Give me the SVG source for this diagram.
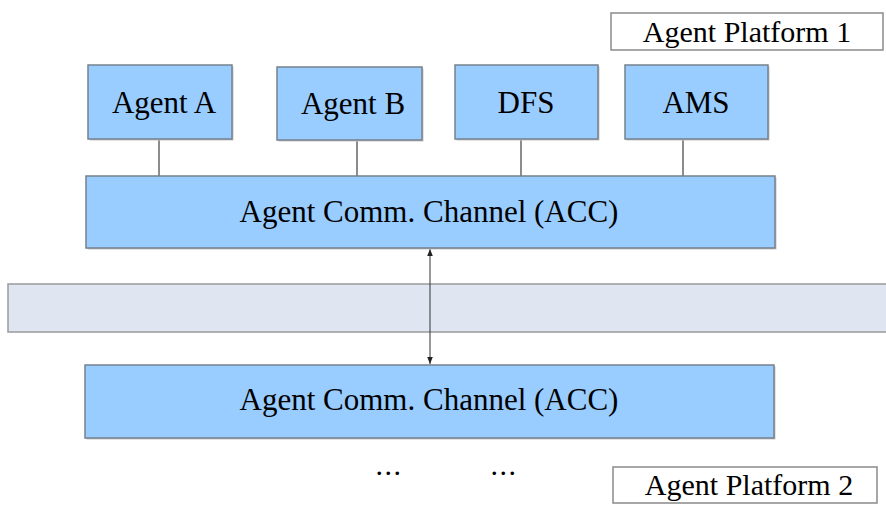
<svg xmlns="http://www.w3.org/2000/svg" width="886" height="511" viewBox="0 0 886 511">
  <defs>
    <style>
      .box { fill: #99ccff; stroke: #76818c; stroke-width: 1.5; }
      .shadow { fill: #c8c8c8; }
      .label { fill: #000; font-family: "Liberation Serif", "Times New Roman", serif; font-size: 31px; text-anchor: middle; }
      .plabel { fill: #000; font-family: "Liberation Serif", "Times New Roman", serif; font-size: 30px; text-anchor: middle; }
      .plat { fill: #ffffff; stroke: #8a8a8a; stroke-width: 1.5; }
      .link { stroke: #8c8c8c; stroke-width: 2; fill: none; }
      .arrow { stroke: #333; stroke-width: 1; fill: none; }
    </style>
    <marker id="ah" viewBox="0 0 10 10" refX="10" refY="5" markerWidth="7" markerHeight="7" orient="auto-start-reverse" markerUnits="userSpaceOnUse">
      <path d="M0,1 L10,5 L0,9 z" fill="#222"/>
    </marker>
  </defs>
  <rect width="886" height="511" fill="#ffffff"/>

  <g id="network-band">
    <rect x="8" y="284" width="880" height="48" fill="#dfe6f2" stroke="#9a9a9a" stroke-width="1.5"/>
  </g>

  <g id="connectors">
    <line class="link" x1="159" y1="139" x2="159" y2="176"/>
    <line class="link" x1="357" y1="140" x2="357" y2="176"/>
    <line class="link" x1="521" y1="139" x2="521" y2="176"/>
    <line class="link" x1="683" y1="139" x2="683" y2="176"/>
    <line class="arrow" x1="430" y1="249" x2="430" y2="364" marker-start="url(#ah)" marker-end="url(#ah)"/>
  </g>

  <g id="platform1-label">
    <rect class="plat" x="611" y="13" width="272" height="37"/>
    <text class="plabel" x="747" y="42">Agent Platform 1</text>
  </g>

  <g id="agent-a">
    <rect class="shadow" x="89.5" y="66.5" width="144" height="74"/>
    <rect class="box" x="88" y="65" width="144" height="74"/>
    <text class="label" x="164" y="113">Agent A</text>
  </g>
  <g id="agent-b">
    <rect class="shadow" x="278.5" y="68.5" width="145" height="73"/>
    <rect class="box" x="277" y="67" width="145" height="73"/>
    <text class="label" x="353" y="114">Agent B</text>
  </g>
  <g id="dfs">
    <rect class="shadow" x="456.5" y="66.5" width="143" height="74"/>
    <rect class="box" x="455" y="65" width="143" height="74"/>
    <text class="label" x="526" y="113">DFS</text>
  </g>
  <g id="ams">
    <rect class="shadow" x="626.5" y="66.5" width="143" height="74"/>
    <rect class="box" x="625" y="65" width="143" height="74"/>
    <text class="label" x="696" y="113">AMS</text>
  </g>

  <g id="acc1">
    <rect class="shadow" x="87.5" y="177.5" width="689" height="72"/>
    <rect class="box" x="86" y="176" width="689" height="72"/>
    <text class="label" x="429" y="222">Agent Comm. Channel (ACC)</text>
  </g>

  <g id="acc2">
    <rect class="shadow" x="86.5" y="366.5" width="689" height="73"/>
    <rect class="box" x="85" y="365" width="689" height="73"/>
    <text class="label" x="429" y="410">Agent Comm. Channel (ACC)</text>
  </g>

  <g id="ellipsis-1">
    <text class="plabel" x="389" y="475" letter-spacing="1.5">...</text>
  </g>
  <g id="ellipsis-2">
    <text class="plabel" x="504" y="475" letter-spacing="1.5">...</text>
  </g>

  <g id="platform2-label">
    <rect class="plat" x="613" y="467" width="264" height="36"/>
    <text class="plabel" x="749" y="495">Agent Platform 2</text>
  </g>
</svg>
